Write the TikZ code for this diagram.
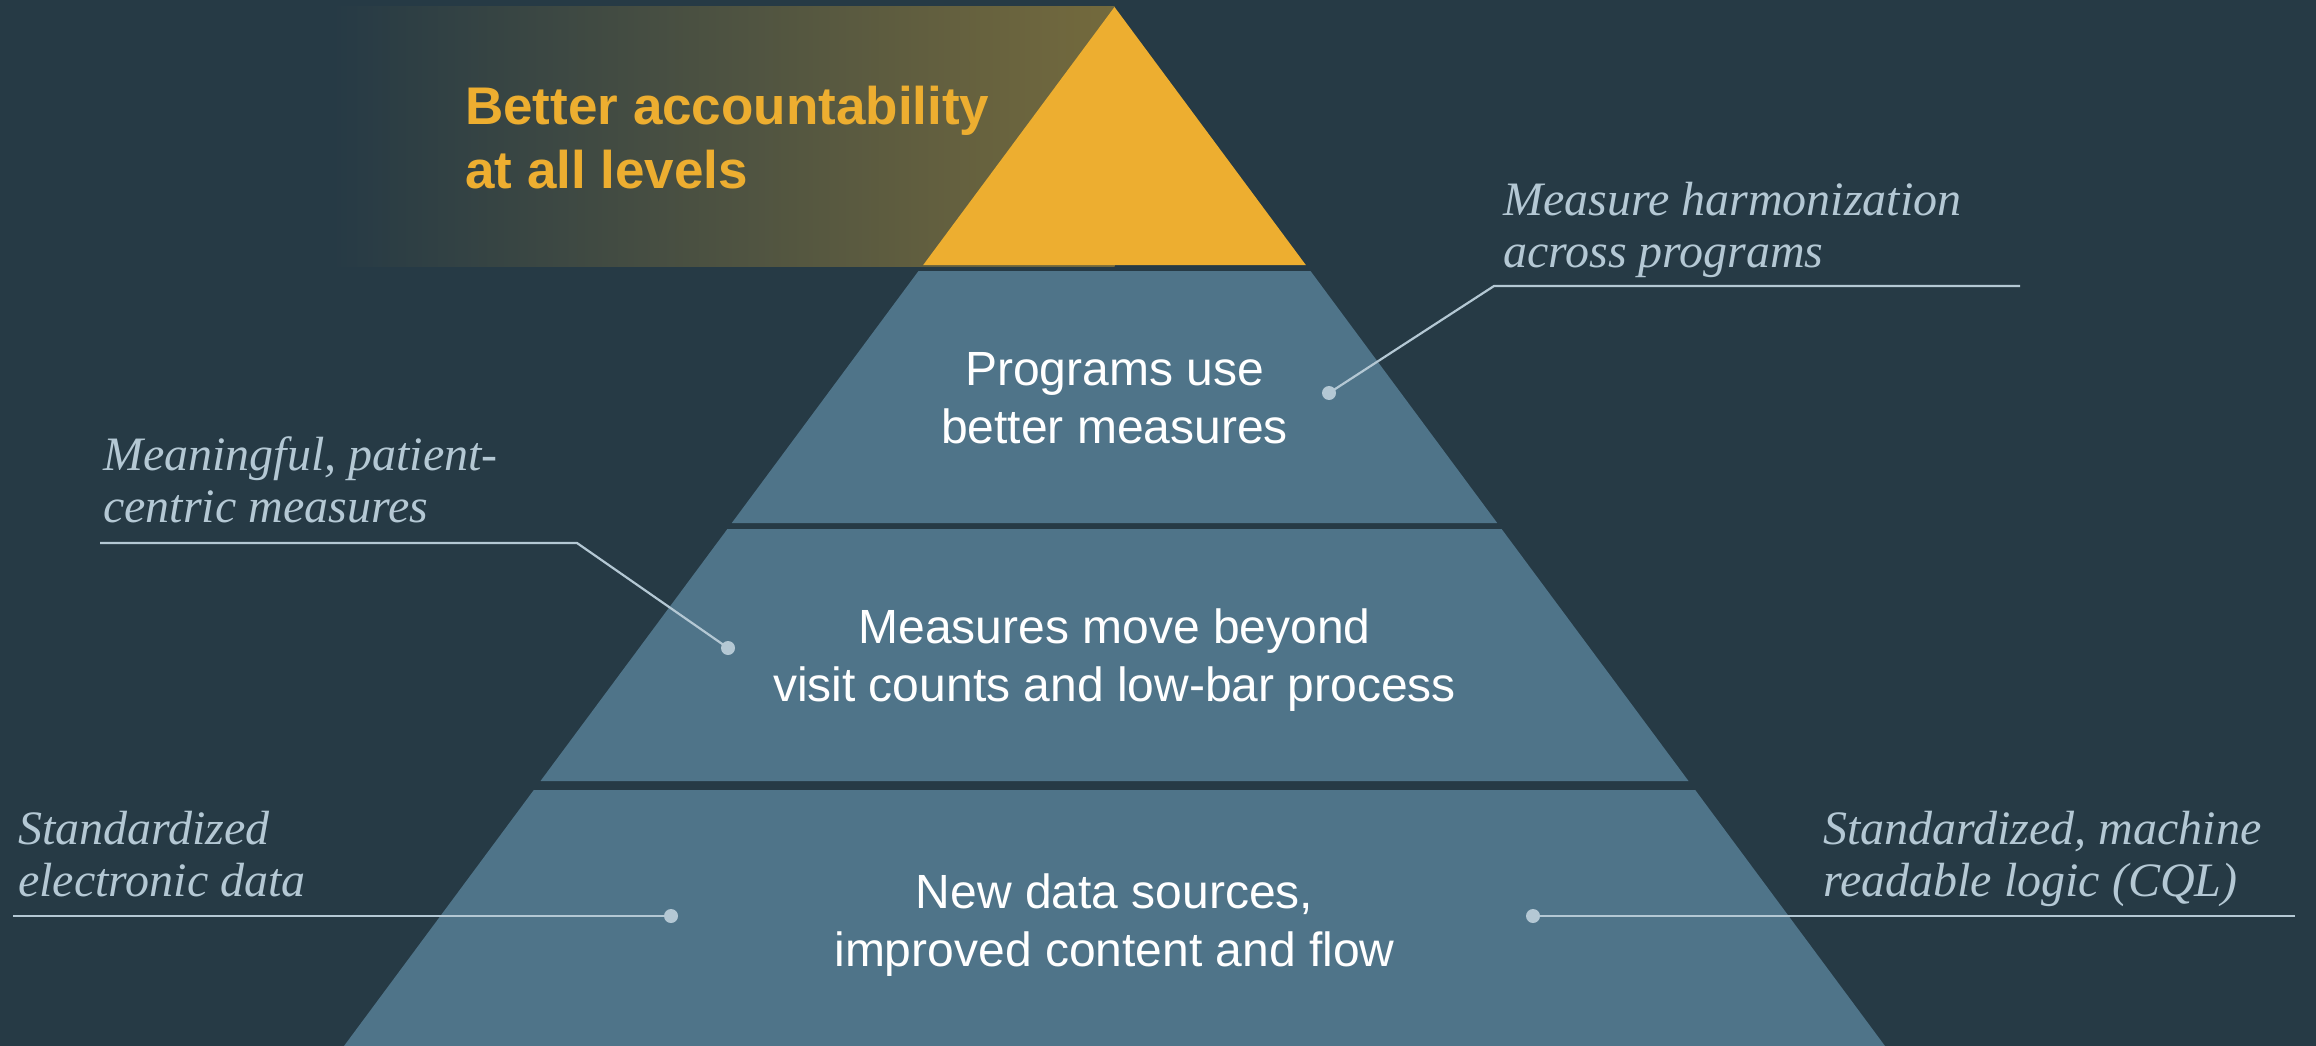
\documentclass[tikz,border=0pt]{standalone}
\usepackage{fontspec}
\setmainfont{Liberation Sans}
\newfontfamily\calloutfont{Liberation Serif}
\definecolor{bgc}{HTML}{263A45}
\definecolor{tierc}{HTML}{4F7489}
\definecolor{goldc}{HTML}{EDAE30}
\definecolor{olivec}{HTML}{746A3D}
\definecolor{callc}{HTML}{B4C8D4}
\tikzset{
  tierbox/.style={fill=tierc, draw=none},
  tiertext/.style={anchor=base, inner sep=0pt, align=center, text=white, font=\fontsize{48}{57.5}\selectfont},
  calltext/.style={inner sep=0pt, align=left, text=callc, font=\calloutfont\itshape\fontsize{48}{51.5}\selectfont},
  callline/.style={draw=callc, line width=2.2pt},
  calldot/.style={circle, fill=callc, inner sep=0pt, minimum size=14pt},
}
\begin{document}
\begin{tikzpicture}[x=1pt,y=-1pt]
\fill[bgc] (0,0) rectangle (2316,1046);
\useasboundingbox (0,0) rectangle (2316,1046);
% gradient band
\shade[left color=bgc, right color=olivec] (332,7) rectangle (1114.5,266);
% pyramid: apex (1114.5,7), half width = (y-7)*0.7416
\fill[goldc] (1114.5,7) -- (1114.5+191.3,265) -- (1114.5-191.3,265) -- cycle;
\fill[tierbox] (1114.5-196.0,271) -- (1114.5+196.0,271) -- (1114.5+382.7,523) -- (1114.5-382.7,523) -- cycle;
\fill[tierbox] (1114.5-387.1,529) -- (1114.5+387.1,529) -- (1114.5+574.0,781) -- (1114.5-574.0,781) -- cycle;
\fill[tierbox] (1114.5-580.7,790) -- (1114.5+580.7,790) -- (1114.5+770.5,1046) -- (1114.5-770.5,1046) -- cycle;
% title (anchor = baseline of last line)
\node[anchor=base west, inner sep=0pt, align=left, text=goldc, font=\bfseries\fontsize{53}{64}\selectfont] (title) at (465,188) {Better accountability\\at all levels};
% tier texts
\node[tiertext] (t1) at (1114.5,443) {Programs use\\better measures};
\node[tiertext] (t2) at (1114.5,701) {Measures move beyond\\visit counts and low-bar process};
\node[tiertext] (t3) at (1114.5,966) {New data sources,\\improved content and flow};
% callouts
\node[calltext, anchor=base west] (c1) at (1503,267) {Measure harmonization\\across programs};
\node[calltext, anchor=base west] (c2) at (103,522) {Meaningful, patient-\\centric measures};
\node[calltext, anchor=base west] (c3) at (18,896) {Standardized\\electronic data};
\node[calltext, anchor=base west] (c4) at (1823,896) {Standardized, machine\\readable logic (CQL)};
% connectors
\node[calldot] (d1) at (1329,393) {};
\node[calldot] (d2) at (728,648) {};
\node[calldot] (d3) at (671,916) {};
\node[calldot] (d4) at (1533,916) {};
\coordinate (e1a) at (2020,286);
\coordinate (e1b) at (1494,286);
\coordinate (e2a) at (100,543);
\coordinate (e2b) at (577,543);
\coordinate (e3a) at (13,916);
\coordinate (e4a) at (2295,916);
\draw[callline] (e1a) -- (e1b) -- (d1.center);
\draw[callline] (e2a) -- (e2b) -- (d2.center);
\draw[callline] (e3a) -- (d3.center);
\draw[callline] (e4a) -- (d4.center);
\end{tikzpicture}
\end{document}
